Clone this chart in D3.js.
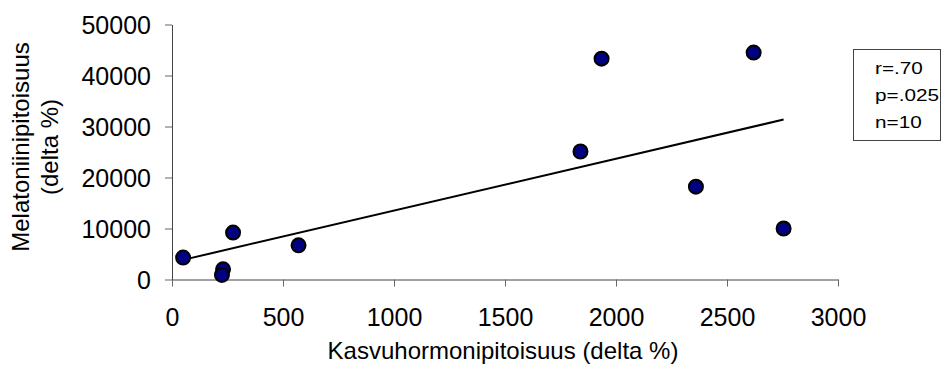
<!DOCTYPE html>
<html>
<head>
<meta charset="utf-8">
<script src="https://cdn.jsdelivr.net/npm/d3@7"></script>
<style>
  html, body { margin: 0; padding: 0; background: #fff; }
  svg { display: block; font-family: "Liberation Sans", Arial, sans-serif; }
</style>
</head>
<body>
<svg id="chart" width="946" height="374"></svg>
<script>
// Growth hormone change (x) vs melatonin change (y), delta %
const growthHormone = [50, 230, 225, 275, 570, 1840, 1935, 2620, 2360, 2755];
const melatonin     = [4300, 2000, 900, 9200, 6700, 25100, 43300, 44500, 18200, 10000];
const xTicks = [0, 500, 1000, 1500, 2000, 2500, 3000];
const yTicks = [0, 10000, 20000, 30000, 40000, 50000];
const statsLines = ["r=.70", "p=.025", "n=10"];
const xTitle = "Kasvuhormonipitoisuus (delta %)";
const yTitleLines = ["Melatoniinipitoisuus", "(delta %)"];

const svg = d3.select("#chart");

const x = d3.scaleLinear().domain([0, 3000]).range([172, 838]);
const y = d3.scaleLinear().domain([0, 50000]).range([279.5, 24.5]);

// Axes
const fmt = d3.format("d");
const xAxis = svg.append("g")
  .attr("transform", `translate(0,${y(0)})`)
  .call(d3.axisBottom(x).tickValues(xTicks).tickFormat(fmt).tickSize(7).tickSizeOuter(0).tickPadding(22));
const yAxis = svg.append("g")
  .attr("transform", `translate(${x(0)},0)`)
  .call(d3.axisLeft(y).tickValues(yTicks).tickFormat(fmt).tickSize(7).tickSizeOuter(0).tickPadding(14));

[xAxis, yAxis].forEach(g => {
  g.select(".domain").attr("stroke", "#444").attr("stroke-width", 1);
  g.selectAll(".tick line").attr("stroke", "#666").attr("stroke-width", 1);
  g.selectAll(".tick text")
    .attr("fill", "#000")
    .style("font-size", "25px")
    .style("font-family", "'Liberation Sans', Arial, sans-serif");
});
yAxis.selectAll(".tick text").attr("dy", "0.36em");

// Least-squares trend line over the observed x range
const n = growthHormone.length;
const mx = d3.mean(growthHormone), my = d3.mean(melatonin);
let sxy = 0, sxx = 0;
for (let i = 0; i < n; i++) {
  sxy += (growthHormone[i] - mx) * (melatonin[i] - my);
  sxx += (growthHormone[i] - mx) ** 2;
}
const slope = sxy / sxx, intercept = my - slope * mx;
const [x0, x1] = d3.extent(growthHormone);
svg.append("line")
  .attr("x1", x(x0)).attr("y1", y(intercept + slope * x0))
  .attr("x2", x(x1)).attr("y2", y(intercept + slope * x1))
  .attr("stroke", "#000").attr("stroke-width", 2);

// Data points
svg.append("g").selectAll("circle")
  .data(growthHormone.map((v, i) => [v, melatonin[i]]))
  .join("circle")
  .attr("cx", d => x(d[0]))
  .attr("cy", d => y(d[1]))
  .attr("r", 7)
  .attr("fill", "#000080")
  .attr("stroke", "#000")
  .attr("stroke-width", 2);

// Axis titles
svg.append("text")
  .attr("x", 503).attr("y", 359)
  .attr("text-anchor", "middle")
  .style("font-size", "24px")
  .text(xTitle);

const yTitle = svg.append("text")
  .attr("transform", "translate(29,147) rotate(-90)")
  .attr("text-anchor", "middle")
  .style("font-size", "24px");
yTitle.selectAll("tspan")
  .data(yTitleLines)
  .join("tspan")
  .attr("x", 0)
  .attr("y", (d, i) => i * 29)
  .text(d => d);

// Statistics box
svg.append("rect")
  .attr("x", 853.5).attr("y", 49.5)
  .attr("width", 87).attr("height", 91)
  .attr("fill", "#fff").attr("stroke", "#444").attr("stroke-width", 1);
const stats = svg.append("g").attr("transform", "translate(875,0) scale(1.22,1)");
stats.selectAll("text")
  .data(statsLines)
  .join("text")
  .attr("x", 0)
  .attr("y", (d, i) => 74 + i * 27)
  .style("font-size", "17px")
  .text(d => d);
</script>
</body>
</html>
